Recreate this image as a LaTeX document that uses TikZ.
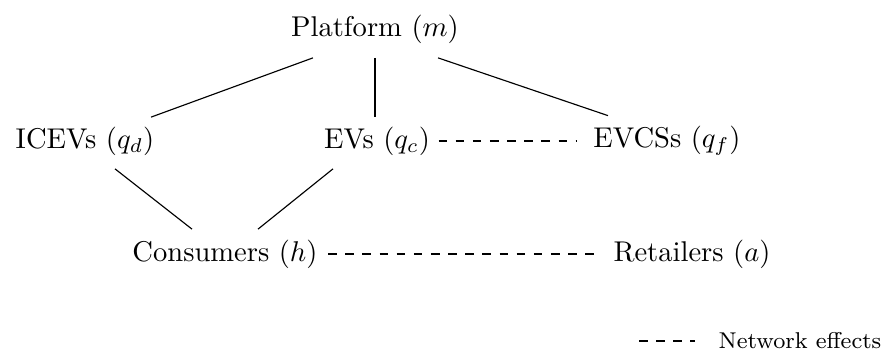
\documentclass[tikz,border=0pt]{standalone}
\usetikzlibrary{calc}
\begin{document}
\begin{tikzpicture}[x=0.35pt,y=-0.35pt,
  lbl/.style={inner sep=0pt},
  link/.style={line width=0.4pt},
  neteff/.style={line width=0.4pt,dashed}]
\useasboundingbox (0,0) rectangle (886,360);
\node[lbl] (p) at (375,29) {Platform ($m$)};
\node[lbl] (i) at (85,141) {ICEVs ($q_d$)};
\node[lbl] (e) at (377,141) {EVs ($q_c$)};
\node[lbl] (f) at (667,141) {EVCSs ($q_f$)};
\node[lbl] (c) at (225,254) {Consumers ($h$)};
\node[lbl] (r) at (692,254) {Retailers ($a$)};
\draw[link] ($(p.south)+(-62,14)$) -- ($(i.north)+(66,-9)$);
\draw[link] ($(p.south)+(0,14)$) -- ($(p.south|-e.north)+(0,-9)$);
\draw[link] ($(p.south)+(63,14)$) -- ($(f.north)+(-59,-10)$);
\draw[link] ($(i.south)+(30,13)$) -- ($(c.north)+(-33,-10)$);
\draw[link] ($(e.south)+(-44,13)$) -- ($(c.north)+(33,-10)$);
\draw[neteff] ($(e.east)+(8,0)$) -- ($(f.west)+(-17,0)$);
\draw[neteff] ($(c.east)+(10,0)$) -- ($(r.west)+(-14,0)$);
\node[lbl,font=\footnotesize] (lg) at (800,341) {Network effects};
\coordinate (lgs) at (639,341);
\draw[neteff] (lgs) -- ($(lgs)+(56,0)$);
\end{tikzpicture}
\end{document}
